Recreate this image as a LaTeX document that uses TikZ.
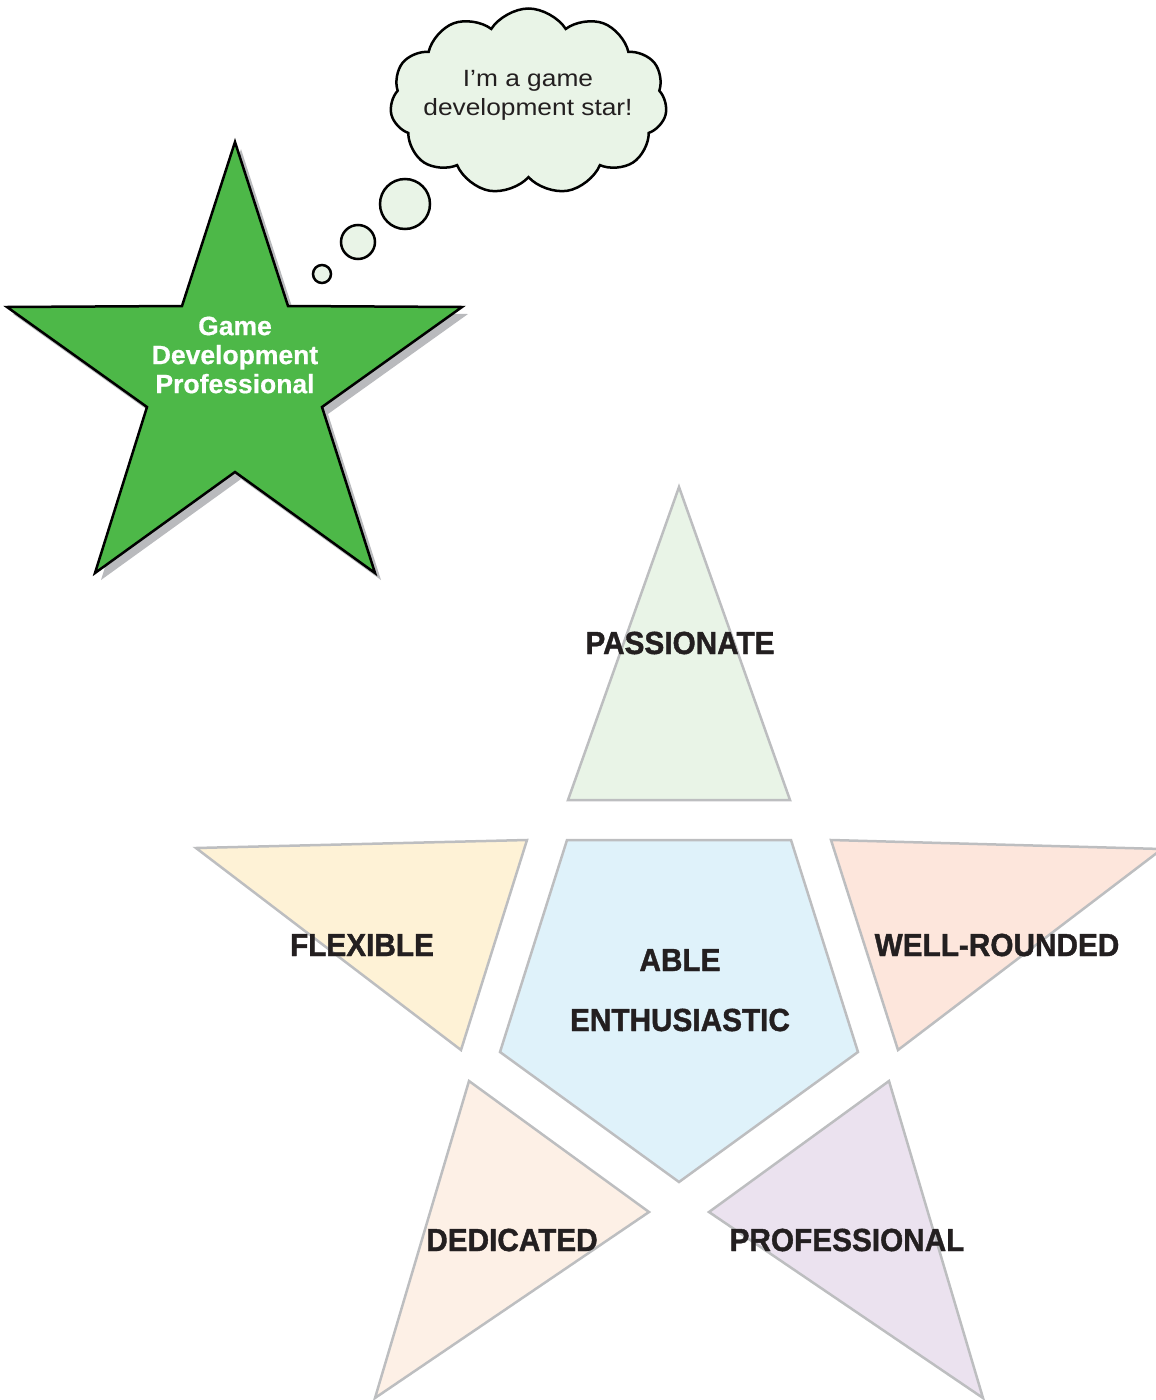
\documentclass[tikz,border=0pt]{standalone}
\usepackage{fontspec}
\setmainfont{Liberation Sans}
\newfontfamily\labfont[FakeStretch=0.93,FakeBold=1.2]{Liberation Sans}
\newfontfamily\starfont[FakeBold=0.6]{Liberation Sans}
\newfontfamily\cloudfont[FakeStretch=1.12]{Liberation Sans}
\usetikzlibrary{shapes.symbols}
\definecolor{stargreen}{HTML}{4DB848}
\definecolor{shadowgray}{HTML}{B9BABD}
\definecolor{edgegray}{HTML}{BDBEC0}
\definecolor{pgreen}{HTML}{E9F4E7}
\definecolor{pyellow}{HTML}{FEF2D6}
\definecolor{ppeach}{HTML}{FDE6DC}
\definecolor{pblue}{HTML}{DFF2FA}
\definecolor{pcream}{HTML}{FDF0E6}
\definecolor{plav}{HTML}{EBE2EF}
\definecolor{txt}{HTML}{231F20}
\tikzset{
  piece/.style={draw=edgegray, line width=2.5pt, line join=miter},
  lab/.style={text=txt, font=\labfont\bfseries\fontsize{32}{32}\selectfont, inner sep=0pt, anchor=center},
  bubble/.style={circle, draw=black, line width=2.5pt, fill=pgreen, inner sep=0pt},
  startext/.style={text=white, font=\starfont\bfseries\fontsize{26.5}{29}\selectfont, align=center, inner sep=0pt},
  cloudtext/.style={text=txt, font=\cloudfont\fontsize{23.5}{29}\selectfont, align=center, inner sep=0pt}
}
\begin{document}
\begin{tikzpicture}[x=1pt,y=-1pt]
\useasboundingbox (0,0) rectangle (1156,1400);
% green star shadow
\fill[shadowgray, shift={(6,7)}] (235,142) -- (288,306) -- (462,307) -- (322,407) -- (375,573) -- (235,472) -- (95,573) -- (147,407) -- (7,307) -- (182,306) -- cycle;
% green star
\draw[fill=stargreen, line width=2.5pt, line join=miter] (235,142) -- (288,306) -- (462,307) -- (322,407) -- (375,573) -- (235,472) -- (95,573) -- (147,407) -- (7,307) -- (182,306) -- cycle;
\node[startext] (gdp) at (235,355) {Game\\Development\\Professional};
% thought bubbles
\node[bubble, minimum size=18pt] (b1) at (322,274) {};
\node[bubble, minimum size=34pt] (b2) at (358,242) {};
\node[bubble, minimum size=50pt] (b3) at (405,204) {};
\node[cloud, cloud puffs=11, cloud puff arc=115, cloud ignores aspect, draw=black, line width=2.5pt, fill=pgreen, minimum width=277pt, minimum height=186pt, inner sep=0pt] (cloud) at (528.5,101.5) {};
\node[cloudtext] (think) at (528,95) {I’m a game\\development star!};
% exploded pentagram
\path[piece, fill=pgreen] (679,487) -- (790,800) -- (568,800) -- cycle;
\path[piece, fill=pyellow] (196,848) -- (527,840) -- (461,1050) -- cycle;
\path[piece, fill=ppeach] (831,840) -- (1162,849) -- (898,1050) -- cycle;
\path[piece, fill=pblue] (567,840) -- (791,840) -- (858,1052) -- (679,1182) -- (500,1052) -- cycle;
\path[piece, fill=pcream] (469,1081) -- (649,1212) -- (375,1398) -- cycle;
\path[piece, fill=plav] (889,1081) -- (983,1398) -- (709,1212) -- cycle;
% labels
\node[lab] (passionate) at (680,643) {PASSIONATE};
\node[lab] (flexible) at (362,945) {FLEXIBLE};
\node[lab] (wellrounded) at (997,945) {WELL-ROUNDED};
\node[lab] (able) at (680,960) {ABLE};
\node[lab] (enthusiastic) at (680,1020) {ENTHUSIASTIC};
\node[lab] (dedicated) at (512,1240) {DEDICATED};
\node[lab] (professional) at (847,1240) {PROFESSIONAL};
\end{tikzpicture}
\end{document}
